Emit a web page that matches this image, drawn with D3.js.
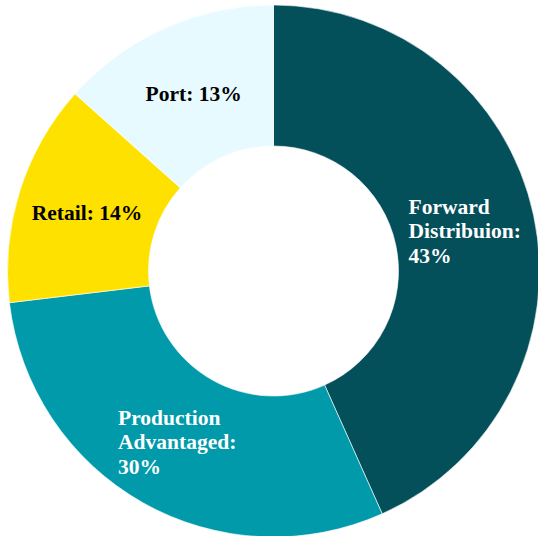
<html>
<head>
  <script src="https://d3js.org/d3.v7.min.js"></script>
  <style>
    body { margin: 0; background: #fff; }
    .label { font-family: "Liberation Serif", "Times New Roman", serif; font-weight: bold; font-size: 21.5px; }
  </style>
</head>
<body>
  <svg id="donut" width="538" height="536"></svg>
  <script>
    // data
    const categories = ["Forward Distribuion", "Production Advantaged", "Retail", "Port"];
    const shares = [43.3, 29.8, 13.5, 13.4];
    const labelLines = [["Forward", "Distribuion:", "43%"], ["Production", "Advantaged:", "30%"], ["Retail: 14%"], ["Port: 13%"]];
    const colors = ["#034f5a", "#009aab", "#ffe100", "#e6faff"];
    const textColors = ["#ffffff", "#ffffff", "#000000", "#000000"];

    const svg = d3.select("#donut");
    const cx = 273.5, cy = 271;
    const outerR = 266, innerR = 125;

    const g = svg.append("g").attr("transform", `translate(${cx},${cy})`);

    const pie = d3.pie().sort(null).value(d => d.value);
    const data = categories.map((c, i) => ({ name: c, value: shares[i], i: i }));
    const arcs = pie(data);

    const arc = d3.arc().innerRadius(innerR).outerRadius(outerR);

    g.selectAll("path.slice").data(arcs)
      .join("path")
      .attr("class", "slice")
      .attr("d", arc)
      .attr("fill", d => colors[d.data.i])
      .attr("stroke", "#ffffff")
      .attr("stroke-width", 0.6);

    const lineH = 24.5;
    arcs.forEach(d => {
      const [x, y] = arc.centroid(d);
      const lines = labelLines[d.data.i];
      const t = g.append("text")
        .attr("class", "label")
        .attr("fill", textColors[d.data.i]);
      lines.forEach((l, k) => {
        t.append("tspan").attr("dy", k === 0 ? 0 : lineH).text(l);
      });
      let maxW = 0;
      t.selectAll("tspan").each(function () { maxW = Math.max(maxW, this.getComputedTextLength()); });
      const x0 = x - maxW / 2;
      const y0 = y - (lines.length - 1) * lineH / 2 + 8;
      t.attr("y", y0);
      t.selectAll("tspan").attr("x", x0);
    });
  </script>
</body>
</html>
